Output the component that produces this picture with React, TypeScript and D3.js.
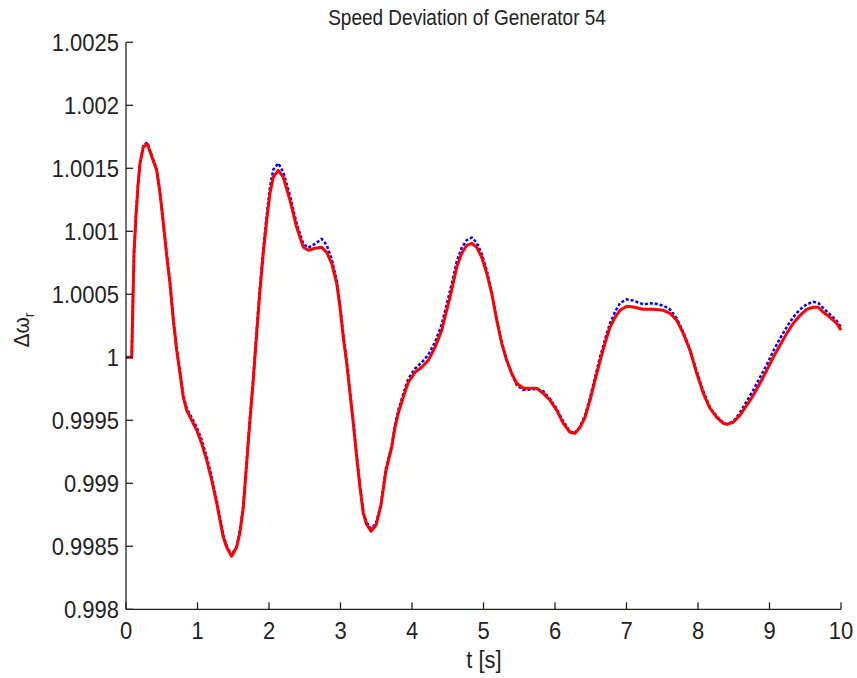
import React from "react";
import * as d3 from "d3";

const tValues = [0, 0.07, 0.08, 0.091, 0.112, 0.14, 0.168, 0.196, 0.242, 0.298, 0.378, 0.429, 0.476, 0.522, 0.569, 0.615, 0.662, 0.709, 0.755, 0.801, 0.849, 0.919, 0.989, 1.058, 1.129, 1.199, 1.269, 1.315, 1.361, 1.408, 1.476, 1.548, 1.594, 1.641, 1.688, 1.734, 1.78, 1.828, 1.874, 1.92, 1.968, 2.014, 2.06, 2.13, 2.2, 2.294, 2.387, 2.48, 2.55, 2.643, 2.737, 2.807, 2.877, 2.947, 2.993, 3.039, 3.087, 3.133, 3.179, 3.227, 3.273, 3.319, 3.364, 3.427, 3.497, 3.566, 3.636, 3.716, 3.762, 3.808, 3.878, 3.948, 4.042, 4.136, 4.228, 4.322, 4.415, 4.485, 4.555, 4.625, 4.695, 4.765, 4.835, 4.905, 4.975, 5.045, 5.115, 5.185, 5.255, 5.324, 5.394, 5.464, 5.557, 5.744, 5.836, 5.93, 6.024, 6.116, 6.21, 6.28, 6.35, 6.42, 6.49, 6.559, 6.629, 6.699, 6.769, 6.839, 6.909, 7.003, 7.095, 7.235, 7.375, 7.515, 7.608, 7.702, 7.794, 7.888, 7.982, 8.074, 8.168, 8.262, 8.354, 8.401, 8.494, 8.587, 8.681, 8.773, 8.867, 8.961, 9.053, 9.147, 9.241, 9.333, 9.427, 9.52, 9.613, 9.683, 9.753, 9.846, 9.94, 10.0];

const redValues = [1.0, 1.0, 1.0, 1.000294, 1.000825, 1.001127, 1.001365, 1.00154, 1.001667, 1.001694, 1.001563, 1.001484, 1.001302, 1.001063, 1.00081, 1.000587, 1.000294, 1.000056, 0.999873, 0.999683, 0.999579, 0.9995, 0.999421, 0.999317, 0.999183, 0.999024, 0.998841, 0.998706, 0.998571, 0.998492, 0.998421, 0.998492, 0.998611, 0.99881, 0.999159, 0.9995, 0.999817, 1.00019, 1.000532, 1.000825, 1.001087, 1.001302, 1.001429, 1.001484, 1.001429, 1.001246, 1.001032, 1.000873, 1.000849, 1.000865, 1.000873, 1.000833, 1.000746, 1.000587, 1.000397, 1.000159, 0.999952, 0.999714, 0.999476, 0.999206, 0.998968, 0.998762, 0.998675, 0.998619, 0.998667, 0.998825, 0.999103, 0.999286, 0.999444, 0.999556, 0.999683, 0.999802, 0.999881, 0.999921, 0.999976, 1.000079, 1.000214, 1.000373, 1.000532, 1.000714, 1.000825, 1.000889, 1.000905, 1.000873, 1.000794, 1.000667, 1.000508, 1.000294, 1.000111, 0.999976, 0.999873, 0.999794, 0.999754, 0.999754, 0.999714, 0.999659, 0.999579, 0.999476, 0.999405, 0.999397, 0.999444, 0.999524, 0.999659, 0.999817, 0.999968, 1.000111, 1.000238, 1.000317, 1.000373, 1.000405, 1.000399, 1.000381, 1.000381, 1.000373, 1.000349, 1.000294, 1.00019, 1.000056, 0.999873, 0.999714, 0.999595, 0.999524, 0.999476, 0.999468, 0.999484, 0.99954, 0.999619, 0.999698, 0.999794, 0.999897, 1.0, 1.000095, 1.00019, 1.00027, 1.000333, 1.000381, 1.000397, 1.000397, 1.000357, 1.000317, 1.00027, 1.000214];

const blueValues = [1.0, 1.0, 1.0, 1.000294, 1.000825, 1.001127, 1.001365, 1.00154, 1.00168, 1.001705, 1.001575, 1.001495, 1.00131, 1.00107, 1.00082, 1.0006, 1.00031, 1.00007, 0.99989, 0.9997, 0.999595, 0.99952, 0.999445, 0.999345, 0.99921, 0.99905, 0.998865, 0.99873, 0.99859, 0.998505, 0.99843, 0.9985, 0.998625, 0.998825, 0.999175, 0.99952, 0.99984, 1.00022, 1.00056, 1.00086, 1.00113, 1.00135, 1.00149, 1.00154, 1.00147, 1.00128, 1.00106, 1.0009, 1.00087, 1.0009, 1.00094, 1.00089, 1.00078, 1.00061, 1.00042, 1.00018, 0.99997, 0.99973, 0.99949, 0.99922, 0.99898, 0.99877, 0.99869, 0.99864, 0.99868, 0.99884, 0.99912, 0.9993, 0.99946, 0.99958, 0.99971, 0.99983, 0.99991, 0.99996, 1.00002, 1.00012, 1.00026, 1.00042, 1.00058, 1.00076, 1.00087, 1.00093, 1.00095, 1.00091, 1.00082, 1.00069, 1.00052, 1.0003, 1.00012, 0.99998, 0.99987, 0.99978, 0.99974, 0.99975, 0.99973, 0.99967, 0.99959, 0.99949, 0.99941, 0.9994, 0.99945, 0.99954, 0.99968, 0.99984, 1.0, 1.00014, 1.00027, 1.00036, 1.00043, 1.00046, 1.00045, 1.00042, 1.00043, 1.00041, 1.00038, 1.00031, 1.0002, 1.00006, 0.99989, 0.99973, 0.9996, 0.99953, 0.99948, 0.99947, 0.99949, 0.99956, 0.99965, 0.99974, 0.99984, 0.99994, 1.00005, 1.00015, 1.00024, 1.00032, 1.00038, 1.00042, 1.00044, 1.00043, 1.00039, 1.00034, 1.00029, 1.00024];

const xTicks = [0, 1, 2, 3, 4, 5, 6, 7, 8, 9, 10];
const yTicks = [0.998, 0.9985, 0.999, 0.9995, 1, 1.0005, 1.001, 1.0015, 1.002, 1.0025];
const yTickLabels = ["0.998", "0.9985", "0.999", "0.9995", "1", "1.0005", "1.001", "1.0015", "1.002", "1.0025"];

const W = 857;
const H = 678;
const left = 126;
const right = 841;
const top = 42.3;
const bottom = 609.3;
const SY = 1.15;
const TSY = 1.06;

export default function App() {
  const x = d3.scaleLinear().domain([0, 10]).range([left, right]);
  const y = d3.scaleLinear().domain([0.998, 1.0025]).range([bottom, top]);
  const line = d3
    .line<number>()
    .x((_, i) => x(tValues[i]))
    .y((d) => y(d))
    .curve(d3.curveLinear);
  const font = "'Liberation Sans', Arial, sans-serif";
  const ink = "#222";
  return (
    <svg
      width={W}
      height={H}
      style={{ position: "absolute", left: 0, top: 0, background: "#fff" }}
    >
      <rect x={0} y={0} width={W} height={H} fill="#fff" />
      <path
        d={line(blueValues) || ""}
        fill="none"
        stroke="#0000ff"
        strokeWidth={2.5}
        strokeDasharray="3 2"
      />
      <path
        d={line(redValues) || ""}
        fill="none"
        stroke="#ff0000"
        strokeWidth={3}
        strokeLinejoin="round"
      />
      <line x1={left} x2={left} y1={top} y2={bottom} stroke={ink} strokeWidth={1.3} />
      <line x1={left} x2={right} y1={bottom} y2={bottom} stroke={ink} strokeWidth={1.3} />
      {yTicks.map((v, i) => (
        <g key={"y" + i}>
          <line x1={left} x2={left + 7} y1={y(v)} y2={y(v)} stroke={ink} strokeWidth={1.3} />
          <text
            transform={`translate(${left - 7}, ${y(v) + 8 * TSY}) scale(1, ${TSY})`}
            textAnchor="end"
            fontFamily={font}
            fontSize={22}
            fill={ink}
          >
            {yTickLabels[i]}
          </text>
        </g>
      ))}
      {xTicks.map((v, i) => (
        <g key={"x" + i}>
          <line x1={x(v)} x2={x(v)} y1={bottom} y2={bottom - 7} stroke={ink} strokeWidth={1.3} />
          <text
            transform={`translate(${x(v)}, 638.5) scale(1, ${TSY})`}
            textAnchor="middle"
            fontFamily={font}
            fontSize={22}
            fill={ink}
          >
            {String(v)}
          </text>
        </g>
      ))}
      <text
        transform={`translate(467, 25) scale(1, ${SY})`}
        textAnchor="middle"
        fontFamily={font}
        fontSize={19}
        fill={ink}
      >
        Speed Deviation of Generator 54
      </text>
      <text
        transform={`translate(484, 668) scale(1, ${TSY})`}
        textAnchor="middle"
        fontFamily={font}
        fontSize={22}
        fill={ink}
      >
        t [s]
      </text>
      <text
        transform={`translate(29, 330) rotate(-90) scale(1, ${TSY})`}
        textAnchor="middle"
        fontFamily={font}
        fontSize={21}
        fill={ink}
      >
        Δω
        <tspan fontSize={14} dy={5}>r</tspan>
      </text>
    </svg>
  );
}
